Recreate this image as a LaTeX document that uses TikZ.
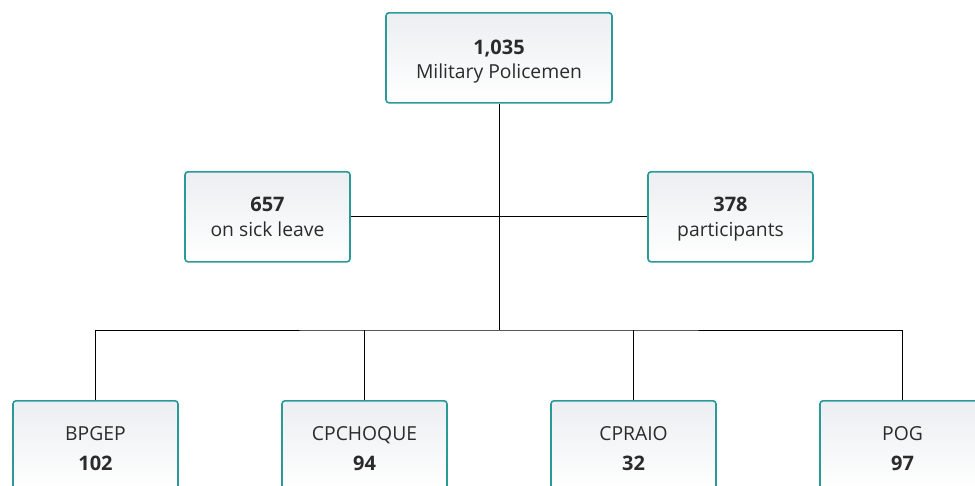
\documentclass[tikz,border=0pt]{standalone}
\usepackage{fontspec}
\setmainfont{Open Sans}
\definecolor{teal1}{HTML}{2A9A98}
\definecolor{boxtop}{HTML}{ECEEF1}
\definecolor{txt}{HTML}{2B2B2B}
\tikzset{
  card/.style={draw=teal1, line width=1.6pt, rounded corners=3pt,
    top color=boxtop, bottom color=white, minimum width=165pt,
    minimum height=90pt, inner sep=0pt, align=center, anchor=north},
  wire/.style={draw=black, line width=0.9pt},
  txtnode/.style={text=txt, anchor=base, inner sep=0pt},
}
\newcommand{\lbl}[1]{{\fontsize{19.3}{22}\selectfont #1}}
\newcommand{\nm}[1]{{\fontsize{20}{22}\selectfont\bfseries #1}}
\begin{document}
\begin{tikzpicture}[x=1pt,y=-1pt]
\useasboundingbox (0,0) rectangle (975,485);
\clip (0,0) rectangle (975,485);
\node[card, minimum width=226pt] (top) at (499,12) {};
\node[txtnode] (t1) at (499,54) {\nm{1,035}};
\node[txtnode] (t2) at (499,78) {\lbl{Military Policemen}};
\node[card] (sick) at (267.5,171) {};
\node[txtnode] (s1) at (267.5,211) {\nm{657}};
\node[txtnode] (s2) at (267.5,236) {\lbl{on sick leave}};
\node[card] (part) at (730.5,171) {};
\node[txtnode] (p1) at (730.5,211) {\nm{378}};
\node[txtnode] (p2) at (730.5,236) {\lbl{participants}};
\node[card] (b1) at (95.5,400) {};
\node[card] (b2) at (364.5,400) {};
\node[card] (b3) at (633.5,400) {};
\node[card] (b4) at (902.5,400) {};
\foreach \n/\t/\v in {b1/BPGEP/102, b2/CPCHOQUE/94, b3/CPRAIO/32, b4/POG/97}{
  \node[txtnode] (\n a) at ([yshift=-40pt]\n.north) {\lbl{\t}};
  \node[txtnode] (\n b) at ([yshift=-70pt]\n.north) {\nm{\v}};
}
\coordinate (bus) at (499,330);
\coordinate (mid) at (499,216);
\draw[wire] (top.south) -- (bus);
\draw[wire] (sick.east |- mid) -- (part.west |- mid);
\draw[wire] (b1.north) |- (bus) -| (b4.north);
\draw[wire] (b2.north) -- (b2.north |- bus);
\draw[wire] (b3.north) -- (b3.north |- bus);
\end{tikzpicture}
\end{document}
